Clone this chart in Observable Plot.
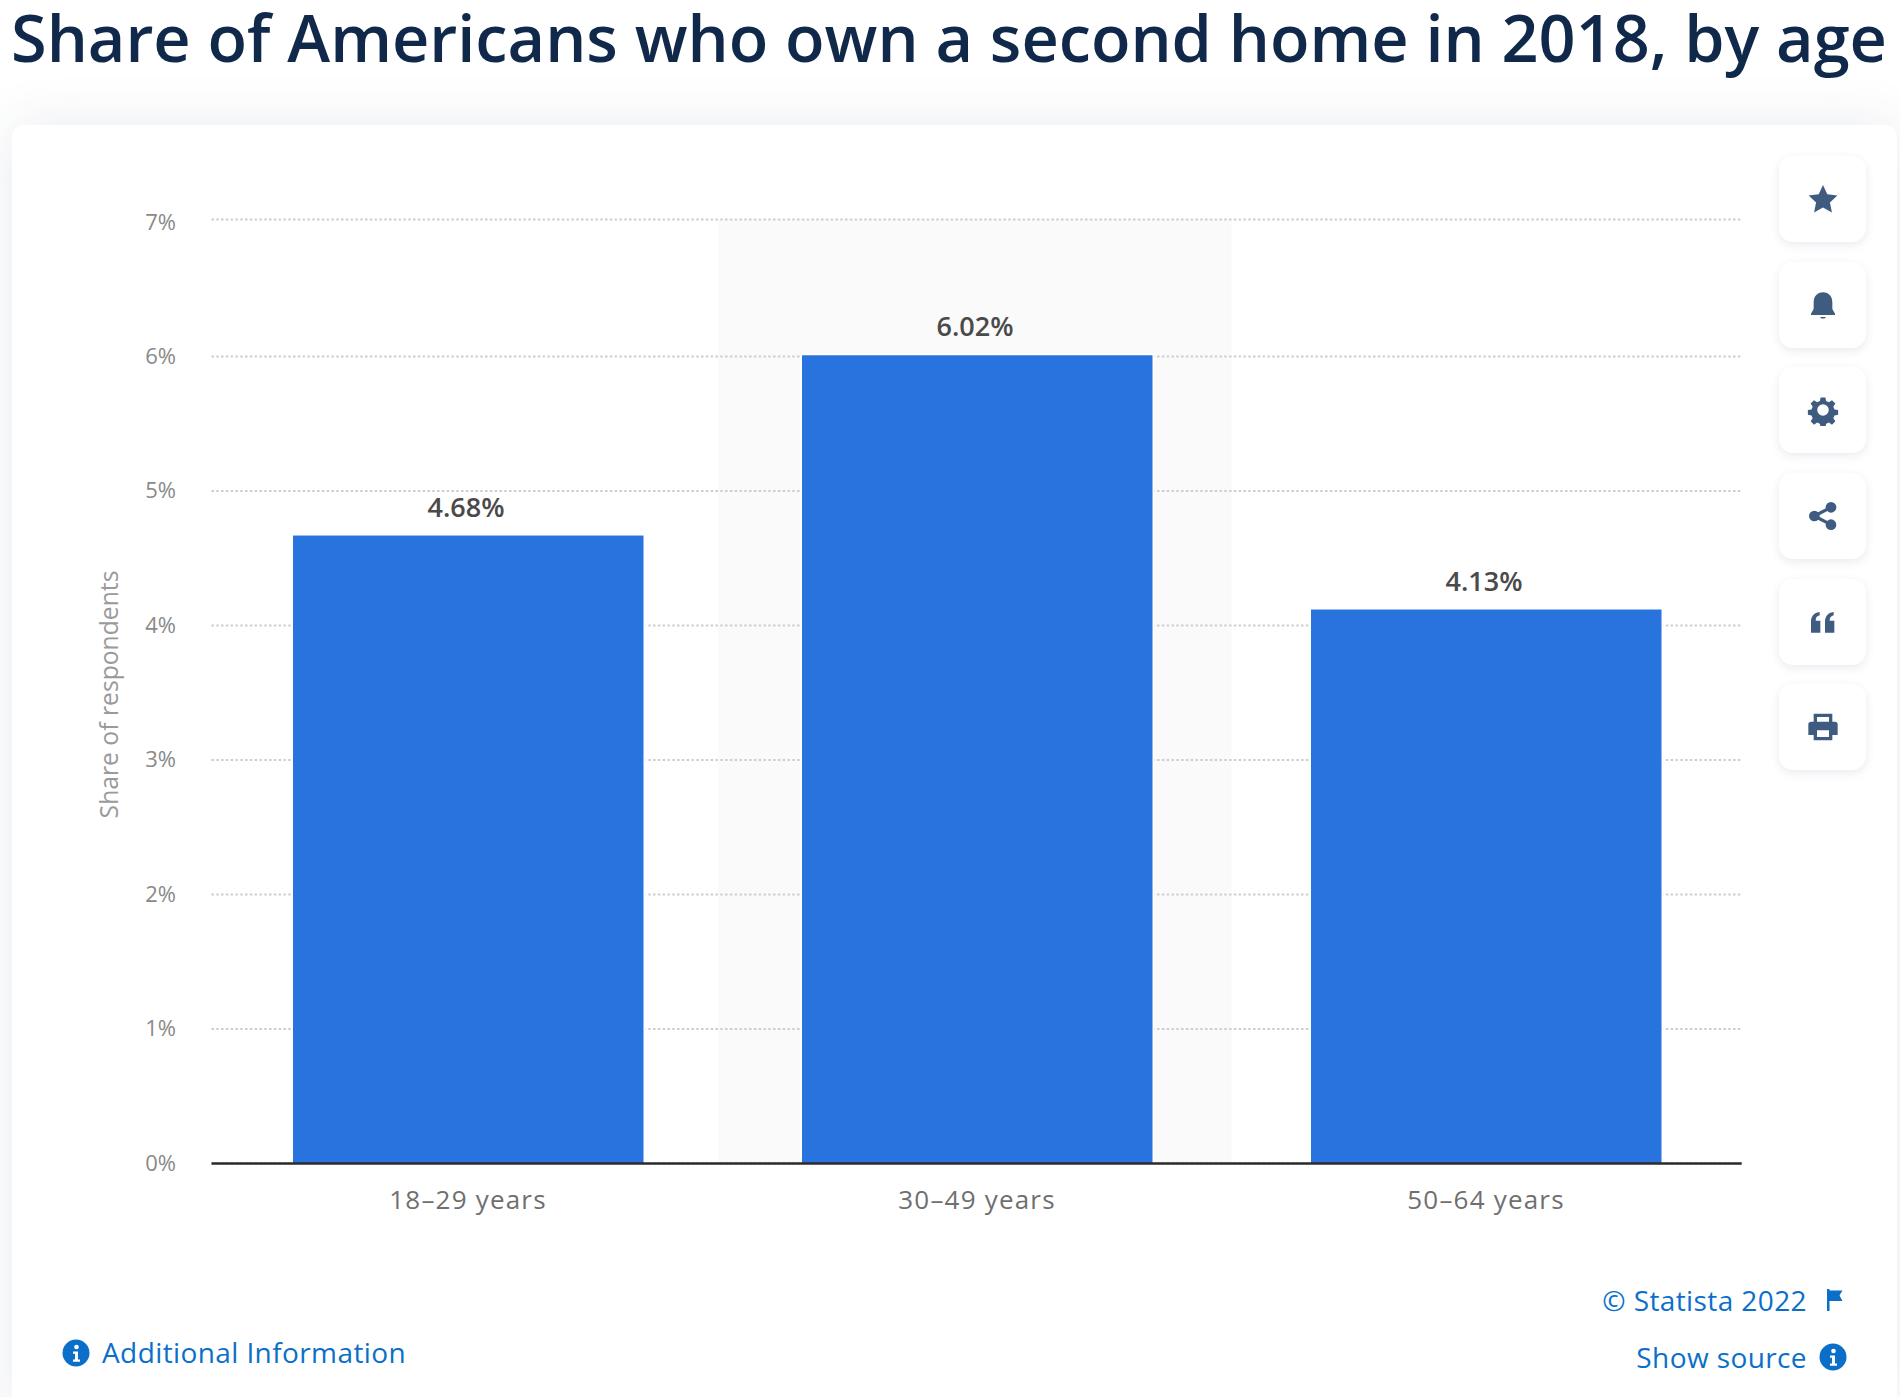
<!DOCTYPE html>
<html lang="en">
<head>
<meta charset="utf-8">
<title>Share of Americans who own a second home in 2018, by age</title>
<script src="https://cdn.jsdelivr.net/npm/d3@7"></script>
<script src="https://cdn.jsdelivr.net/npm/@observablehq/plot@0.6"></script>
<style>
  html,body{margin:0;padding:0;background:#fff;}
  #page{position:relative;width:1900px;height:1397px;overflow:hidden;font-family:"Open Sans",sans-serif;}
  h1{position:absolute;left:11px;top:-1px;margin:0;font-size:64.800px;line-height:76px;font-weight:600;color:#10294a;white-space:nowrap;}
  #card{position:absolute;left:12px;top:125px;width:1885px;height:1290px;background:#fff;border-radius:12px;box-shadow:0 0 55px rgba(40,60,100,.10);}
  #chart{position:absolute;left:0;top:125px;}
  #chart g[aria-label="x-axis tick label"]{letter-spacing:1.2px;}
  .btn{position:absolute;left:1779px;width:87px;height:86px;background:#fff;border-radius:14px;box-shadow:0 3px 10px rgba(40,60,100,.10);display:flex;align-items:center;justify-content:center;}
  .btn svg{width:32px;height:32px;fill:#3f5b80;}
  .link{position:absolute;color:#0b6fc9;font-size:28px;line-height:34px;letter-spacing:.4px;white-space:nowrap;}
  .ico{position:absolute;}
</style>
</head>
<body>
<div id="page">
  <h1 id="title"></h1>
  <div id="card"></div>
  <div id="chart"></div>

  <div class="btn" style="top:156px"><svg viewBox="0 0 24 24"><path d="M12 1.500l3.200 7 7.600.9-5.600 5.200 1.500 7.500L12 18.300l-6.700 3.800 1.500-7.500L1.200 9.400l7.600-.9z"/></svg></div>
  <div class="btn" style="top:262px"><svg viewBox="0 0 24 24"><path d="M12 2.500c4.500 0 7 3.300 7 7.500v5l2 3.500v1H3v-1L5 15v-5c0-4.200 2.500-7.500 7-7.500zM10 21h4c0 .8-.8 1.200-2 1.200s-2-.4-2-1.200z"/></svg></div>
  <div class="btn" style="top:367px"><svg viewBox="0 0 24 24"><path fill-rule="evenodd" d="M10 1.500h4l.6 3 2.300 1 2.600-1.700 2.800 2.800-1.700 2.600 1 2.300 3 .6v3.800l-3 .6-1 2.300 1.700 2.600-2.800 2.800-2.600-1.700-2.300 1-.6 3h-4l-.6-3-2.300-1-2.600 1.700-2.800-2.800 1.700-2.600-1-2.300-3-.6v-3.800l3-.6 1-2.300-1.700-2.600 2.800-2.800 2.600 1.700 2.300-1zM12 7.200a4.800 4.800 0 100 9.600 4.800 4.800 0 000-9.600z" transform="translate(1.200 1.200) scale(.9)"/></svg></div>
  <div class="btn" style="top:473px"><svg viewBox="0 0 24 24"><circle cx="18" cy="5.500" r="4"/><circle cx="18" cy="18.500" r="4"/><circle cx="5.500" cy="12" r="4"/><path d="M5.500 12L18 5.500M5.500 12L18 18.500" stroke="#3f5b80" stroke-width="2.400"/></svg></div>
  <div class="btn" style="top:579px"><svg viewBox="0 0 24 24"><path d="M3 20v-8c0-4 2-7 6.500-7.500V7C7.500 7.400 6.500 8.700 6.500 11H10v9zM13.500 20v-8c0-4 2-7 6.500-7.500V7c-2 .4-3 1.700-3 4h3.500v9z"/></svg></div>
  <div class="btn" style="top:684px"><svg viewBox="0 0 24 24"><path fill-rule="evenodd" d="M5 2h14v6h2c1.200 0 2 .8 2 2v8h-4v4H5v-4H1v-8c0-1.200.8-2 2-2h2zM7.500 4.500V8h9V4.500zM7.500 14.500v5h9v-5z"/></svg></div>

  <svg class="ico" style="left:62px;top:1339px" width="28" height="28" viewBox="0 0 28 28"><circle cx="14" cy="14" r="13.500" fill="#0b6fc9"/><circle cx="14.500" cy="8" r="2.300" fill="#fff"/><path d="M11 12.500h5v8h2v2.300h-7v-2.300h2v-5.700h-2z" fill="#fff"/></svg>
  <div class="link" id="addinfo" style="left:102px;top:1335px"></div>
  <div class="link" id="copyright" style="right:93px;top:1283px"></div>
  <svg class="ico" style="left:1824px;top:1288px" width="22" height="24" viewBox="0 0 22 24"><path d="M3 1h2.500v1.500h13l-3 5 3 5.500H5.500v10H3z" fill="#0b6fc9"/></svg>
  <div class="link" id="source" style="right:93px;top:1340px"></div>
  <svg class="ico" style="left:1819px;top:1343px" width="28" height="28" viewBox="0 0 28 28"><circle cx="14" cy="14" r="13.500" fill="#0b6fc9"/><circle cx="14.500" cy="8" r="2.300" fill="#fff"/><path d="M11 12.500h5v8h2v2.300h-7v-2.300h2v-5.700h-2z" fill="#fff"/></svg>
</div>
<script>
const titleText = "Share of Americans who own a second home in 2018, by age";
const categories = ["18–29 years", "30–49 years", "50–64 years"];
const shares = [4.68, 6.02, 4.13];
const highlighted = ["30–49 years"];
const yTicks = [0, 1, 2, 3, 4, 5, 6];
const yTopTick = [7];
const yGrid = [0, 1, 2, 3, 4, 5, 6, 7];
const yAxisLabel = ["Share of respondents"];
const footerAdditional = "Additional Information";
const footerCopyright = "© Statista 2022";
const footerSource = "Show source";

document.getElementById("title").textContent = titleText;
document.getElementById("addinfo").textContent = footerAdditional;
document.getElementById("copyright").textContent = footerCopyright;
document.getElementById("source").textContent = footerSource;

const rows = categories.map((c, i) => ({category: c, share: shares[i]}));
const yAxisStyle = {tickSize: 0, tickPadding: 36, tickFormat: d => d + "%", fontSize: 22, fill: "#8a8a8a", label: null};

const chart = Plot.plot({
  width: 1900,
  height: 1272,
  marginLeft: 211.5,
  marginRight: 158.3,
  marginTop: 94,
  marginBottom: 234,
  style: {background: "transparent", fontFamily: "'Open Sans', sans-serif"},
  x: {domain: categories, padding: 0, range: [212.5, 1740], label: null},
  y: {type: "linear", domain: [0, 6, 7], range: [1038, 231, 94], label: null},
  marks: [
    Plot.barY(highlighted, {x: d => d, y: () => 7, fill: "#fafafa", insetLeft: -3.7, insetRight: -0.5}),
    Plot.gridY(yGrid, {stroke: "#cdcdcd", strokeOpacity: 1, strokeWidth: 2, strokeDasharray: "2.4 2.4"}),
    Plot.barY(rows, {x: "category", y: "share", fill: "#2873dd", stroke: "#fff", strokeWidth: 4, paintOrder: "stroke", insetLeft: 80, insetRight: 78.5, insetTop: 2}),
    Plot.ruleY([0], {stroke: "#2b2b2b", strokeWidth: 2.5}),
    Plot.text(rows, {x: "category", y: "share", text: d => d.share.toFixed(2) + "%", dy: -26, dx: -2, fontSize: 27, fontWeight: 600, fill: "#4a4a4a"}),
    Plot.axisY(yTicks, yAxisStyle),
    Plot.axisY(yTopTick, {...yAxisStyle, dy: 3}),
    Plot.axisX({tickSize: 0, tickPadding: 27, fontSize: 26, fill: "#6f6f6f", label: null}),
    Plot.text(yAxisLabel, {frameAnchor: "left", textAnchor: "middle", rotate: -90, dx: -102, dy: 3, fontSize: 24.700, fill: "#9a9a9a"})
  ]
});
document.getElementById("chart").appendChild(chart);
</script>
</body>
</html>
